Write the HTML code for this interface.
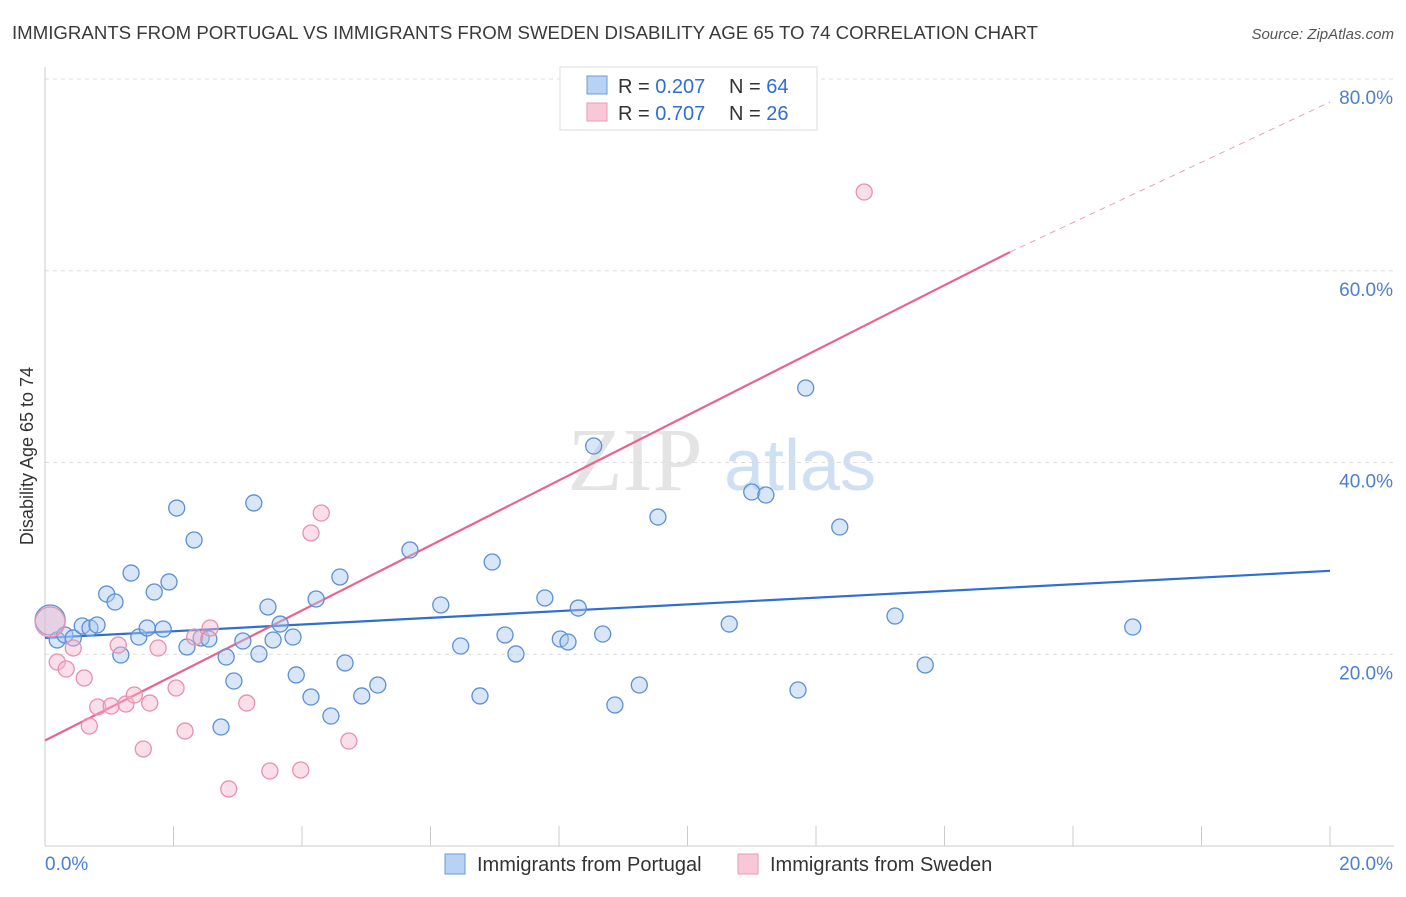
<!DOCTYPE html>
<html><head><meta charset="utf-8"><style>
body{margin:0;background:#fff;font-family:"Liberation Sans",sans-serif;}
</style></head><body>
<svg id="chart" width="1406" height="892" viewBox="0 0 1406 892" xmlns="http://www.w3.org/2000/svg" font-family="Liberation Sans, sans-serif">
<text x="12" y="39" font-size="18" fill="#3a3a3a" textLength="1026" lengthAdjust="spacingAndGlyphs">IMMIGRANTS FROM PORTUGAL VS IMMIGRANTS FROM SWEDEN DISABILITY AGE 65 TO 74 CORRELATION CHART</text>
<text x="1394" y="39" font-size="15" fill="#555" text-anchor="end" font-style="italic">Source: ZipAtlas.com</text>
<text transform="translate(33,456) rotate(-90)" font-size="18" fill="#333" text-anchor="middle">Disability Age 65 to 74</text>
<g>
<text x="635" y="490" font-size="90" fill="#e4e4e4" font-family="Liberation Serif, serif" text-anchor="middle">ZIP</text>
<text x="800" y="490" font-size="72" fill="#cfe0f4" text-anchor="middle">atlas</text>
</g>
<g id="grid"></g><g id="axes"></g><g id="lines"></g><g id="points"></g>
<g>
<rect x="560" y="67" width="257" height="63" fill="#fff" stroke="#ddd"/>
<rect x="587" y="76" width="20" height="18" fill="#b7d2f5" stroke="#6e9ad8"/>
<rect x="587" y="103" width="20" height="18" fill="#f8c8d8" stroke="#ea9ab5"/>
<text x="618" y="93" font-size="20" fill="#333">R = <tspan fill="#2f6fd0">0.207</tspan></text>
<text x="729" y="93" font-size="20" fill="#333">N = <tspan fill="#2f6fd0">64</tspan></text>
<text x="618" y="120" font-size="20" fill="#333">R = <tspan fill="#2f6fd0">0.707</tspan></text>
<text x="729" y="120" font-size="20" fill="#333">N = <tspan fill="#2f6fd0">26</tspan></text>
</g>
<g>
<rect x="445" y="854" width="20" height="20" fill="#b7d2f5" stroke="#6e9ad8"/>
<text x="477" y="871" font-size="20" fill="#333">Immigrants from Portugal</text>
<rect x="738" y="854" width="20" height="20" fill="#f8c8d8" stroke="#ea9ab5"/>
<text x="770" y="871" font-size="20" fill="#333">Immigrants from Sweden</text>
</g>
</svg>
<script>
const blueX=[0.08,0.19,0.31,0.44,0.58,0.70,0.81,0.96,1.09,1.18,1.34,1.46,1.59,1.70,1.84,1.93,2.05,2.21,2.32,2.43,2.55,2.82,2.94,2.74,3.08,3.25,3.33,3.47,3.55,3.66,3.86,3.91,4.14,4.22,4.45,4.59,4.67,4.93,5.18,5.68,6.16,6.47,6.77,6.96,7.16,7.33,7.78,8.02,8.14,8.30,8.54,8.68,8.87,9.25,9.54,10.65,11.00,11.22,11.72,11.84,12.37,13.23,13.70,16.93];
const blueY=[23.57,21.49,22.01,21.70,22.95,22.74,23.05,26.28,25.45,19.92,28.47,21.80,22.74,26.49,22.63,27.54,35.25,20.76,31.92,21.70,21.59,19.71,17.21,12.41,21.38,35.78,20.03,24.93,21.49,23.15,21.80,17.84,15.54,25.76,13.56,28.06,19.09,15.65,16.79,30.87,25.14,20.86,15.65,29.62,22.01,20.03,25.87,21.59,21.28,24.82,41.72,22.11,14.71,16.79,34.31,23.15,36.92,36.61,16.27,47.77,33.27,23.99,18.88,22.84];
const pinkX=[0.08,0.19,0.33,0.44,0.61,0.69,0.82,1.03,1.14,1.26,1.39,1.53,1.63,1.76,2.04,2.18,2.33,2.57,2.86,3.14,3.50,3.98,4.14,4.30,4.73,12.75];
const pinkY=[23.36,19.19,18.46,20.65,17.52,12.52,14.50,14.60,20.96,14.81,15.75,10.12,14.91,20.65,16.48,11.99,21.80,22.74,5.95,14.91,7.82,7.93,32.65,34.73,10.95,68.21];
const blueTrend=[21.7,28.7];
const pinkTrend=[11.0,61.95,77.6];
const pinkSolidEnd=15.02;
const yTicks=[20,40,60,80];
const yTickLabels=["20.0%","40.0%","60.0%","80.0%"];
const xTicks=[0,2,4,6,8,10,12,14,16,18,20];
const xLabels=["0.0%","20.0%"];
const NS="http://www.w3.org/2000/svg";
const sx=v=>45+v/20*1285, sy=v=>846-v/80*767;
function mk(tag,attrs,parent){const e=document.createElementNS(NS,tag);for(const k in attrs)e.setAttribute(k,attrs[k]);document.getElementById(parent).appendChild(e);return e;}
yTicks.forEach((t,i)=>{
 const g=mk('line',{x1:45,x2:1394,y1:sy(t),y2:sy(t),stroke:'#ddd','stroke-dasharray':'4,4'},'grid');
 
 
 const l=mk('text',{x:1393,y:sy(t)+25,'font-size':19,fill:'#4a7fd4','text-anchor':'end'},'axes');
 l.textContent=yTickLabels[i];
 
 
});
const ax=mk('line',{x1:45,x2:1394,y1:846,y2:846,stroke:'#ccc'},'axes');


const ay=mk('line',{x1:45,x2:45,y1:67,y2:846,stroke:'#ccc'},'axes');


xTicks.forEach(t=>{const k=mk('line',{x1:sx(t),x2:sx(t),y1:826,y2:846,stroke:'#ccc'},'axes');
 
 });
[[0,'start',xLabels[0],45],[20,'end',xLabels[1],1393]].forEach(a=>{const t=mk('text',{x:a[3],y:870,'font-size':19,fill:'#4a7fd4','text-anchor':a[1]},'axes');t.textContent=a[2];
 
 });
function dots(X,Y,fill,stroke,name){X.forEach((x,i)=>{const big=i===0;const c=mk('circle',{cx:sx(x),cy:sy(Y[i]),r:big?15:8,fill:fill,'fill-opacity':0.45,stroke:stroke,'stroke-width':1.3},'points');
 
 });}
dots(blueX,blueY,'#a8c8f0','#5b8fd6','portugal-point');
dots(pinkX,pinkY,'#f4b8cc','#e890ae','sweden-point');
const bl=mk('line',{x1:sx(0),y1:sy(blueTrend[0]),x2:sx(20),y2:sy(blueTrend[1]),stroke:'#2f6fd0','stroke-width':2.2},'lines');


const pl=mk('line',{x1:sx(0),y1:sy(pinkTrend[0]),x2:sx(pinkSolidEnd),y2:sy(pinkTrend[1]),stroke:'#e8648c','stroke-width':2.2},'lines');


const pd=mk('line',{x1:sx(pinkSolidEnd),y1:sy(pinkTrend[1]),x2:sx(20),y2:sy(pinkTrend[2]),stroke:'#e8a0b8','stroke-width':1,'stroke-dasharray':'6,5'},'lines');


</script>
</body></html>
